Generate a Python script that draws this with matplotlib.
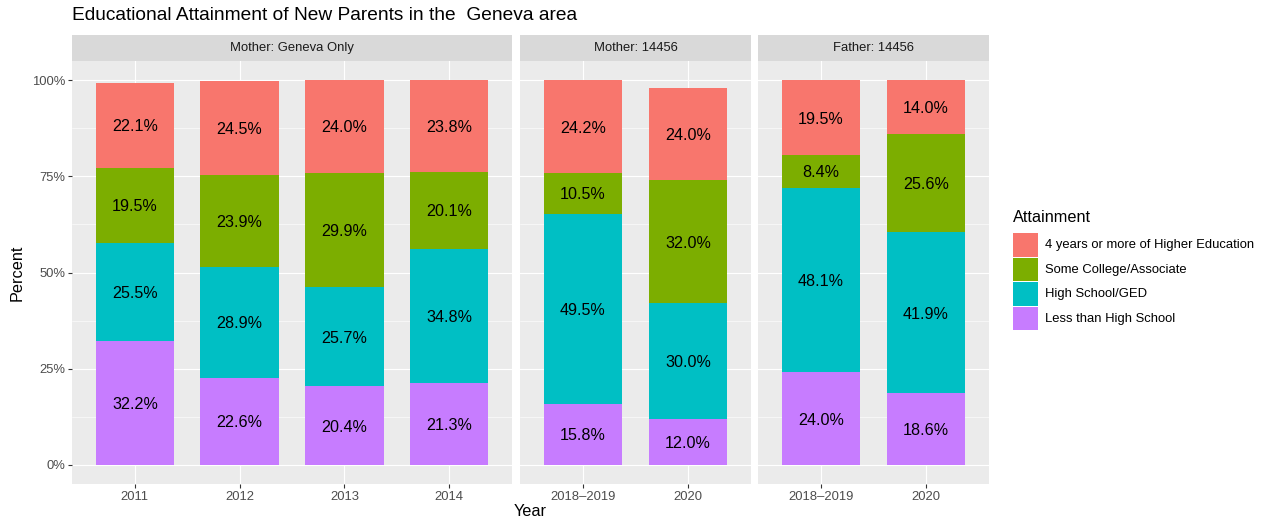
import matplotlib
matplotlib.use("Agg")
import matplotlib.pyplot as plt
from matplotlib.patches import Rectangle

plt.rcParams['font.family'] = ['Liberation Sans', 'DejaVu Sans']

# ---------------- data ----------------
facet_titles = ["Mother: Geneva Only", "Mother: 14456", "Father: 14456"]
years_geneva = ["2011", "2012", "2013", "2014"]
years_14456 = ["2018\u20132019", "2020"]

attainment = ["4 years or more of Higher Education", "Some College/Associate",
              "High School/GED", "Less than High School"]
colors = ["#F8766D", "#7CAE00", "#00BFC4", "#C77CFF"]

# Mother: Geneva Only
mg_less = [32.2, 22.6, 20.4, 21.3]
mg_hs = [25.5, 28.9, 25.7, 34.8]
mg_some = [19.5, 23.9, 29.9, 20.1]
mg_four = [22.1, 24.5, 24.0, 23.8]

# Mother: 14456
m_less = [15.8, 12.0]
m_hs = [49.5, 30.0]
m_some = [10.5, 32.0]
m_four = [24.2, 24.0]

# Father: 14456
f_less = [24.0, 18.6]
f_hs = [48.1, 41.9]
f_some = [8.4, 25.6]
f_four = [19.5, 14.0]

facets = [
    (facet_titles[0], years_geneva, [mg_four, mg_some, mg_hs, mg_less]),
    (facet_titles[1], years_14456, [m_four, m_some, m_hs, m_less]),
    (facet_titles[2], years_14456, [f_four, f_some, f_hs, f_less]),
]

yticks = [0, 25, 50, 75, 100]
ytick_labels = ["0%", "25%", "50%", "75%", "100%"]

# ---------------- layout ----------------
W, H = 1270, 523
fig = plt.figure(figsize=(W / 100, H / 100), dpi=100)

panel_x = [(72, 512), (520, 751), (758, 989)]
panel_top, panel_bot = 61, 484
strip_top = 35

SMALL = 9.4
LABEL = 11.6
AXT = 11.7
TITLE = 13.8

def fx(x):
    return x / W

def fy(y):
    return 1 - y / H

grey_text = "#4D4D4D"
for i, ((title, cats, series), (x0, x1)) in enumerate(zip(facets, panel_x)):
    ax = fig.add_axes([fx(x0), fy(panel_bot), fx(x1 - x0), (panel_bot - panel_top) / H])
    ax.set_facecolor("#EBEBEB")
    for s in ax.spines.values():
        s.set_visible(False)
    n = len(cats)
    xs = list(range(1, n + 1))
    ax.set_xlim(0.4, n + 0.6)
    ax.set_ylim(-5.0, 105.0)
    ax.set_axisbelow(True)
    ax.set_yticks(yticks)
    ax.set_yticks([12.5, 37.5, 62.5, 87.5], minor=True)
    ax.set_xticks(xs)
    ax.set_xticklabels(cats)
    ax.grid(which="major", color="white", linewidth=0.8)
    ax.grid(which="minor", axis="y", color="white", linewidth=0.4)
    ax.tick_params(which="major", length=2.75, width=0.8, color="#333333",
                   labelsize=SMALL, labelcolor=grey_text, pad=2.2)
    ax.tick_params(which="minor", length=0)
    if i == 0:
        ax.set_yticklabels(ytick_labels)
    else:
        ax.tick_params(axis="y", which="major", length=0, labelleft=False)

    # stacked bars: bottom is the last series (Less than High School)
    order = list(range(len(series)))[::-1]
    bottoms = [0.0] * n
    for k in order:
        vals = series[k]
        ax.bar(xs, vals, bottom=bottoms, width=0.75, color=colors[k], linewidth=0)
        for j in range(n):
            ax.text(xs[j], bottoms[j] + vals[j] / 2, f"{vals[j]:.1f}%",
                    ha="center", va="center_baseline", fontsize=LABEL, color="black")
        bottoms = [b + v for b, v in zip(bottoms, vals)]

    # strip
    fig.patches.append(Rectangle((fx(x0), fy(panel_top)), fx(x1 - x0),
                                 (panel_top - strip_top) / H,
                                 transform=fig.transFigure, facecolor="#D9D9D9",
                                 edgecolor="none"))
    fig.text(fx((x0 + x1) / 2), fy((panel_top + strip_top) / 2), title,
             ha="center", va="center", fontsize=SMALL, color="#1A1A1A")

# title and axis labels
fig.text(fx(72), fy(16), "Educational Attainment of New Parents in the  Geneva area",
         ha="left", va="center", fontsize=TITLE, color="black")
fig.text(fx(17), fy((panel_top + panel_bot) / 2), "Percent", rotation=90,
         ha="center", va="center", fontsize=AXT, color="black")
fig.text(fx((72 + 989) / 2), fy(512), "Year", ha="center", va="center",
         fontsize=AXT, color="black")

# legend
fig.text(fx(1013), fy(217), "Attainment", ha="left", va="center", fontsize=AXT,
         color="black")
key_h = 24.5
for k, (lab, c) in enumerate(zip(attainment, colors)):
    ky = 233 + k * key_h
    fig.patches.append(Rectangle((fx(1013), fy(ky + key_h - 0.8)), fx(24.5),
                                 (key_h - 0.8) / H, transform=fig.transFigure,
                                 facecolor=c, edgecolor="none"))
    fig.text(fx(1045), fy(ky + key_h / 2), lab, ha="left", va="center",
             fontsize=SMALL, color="black")

fig.savefig("out.png", dpi=100)
